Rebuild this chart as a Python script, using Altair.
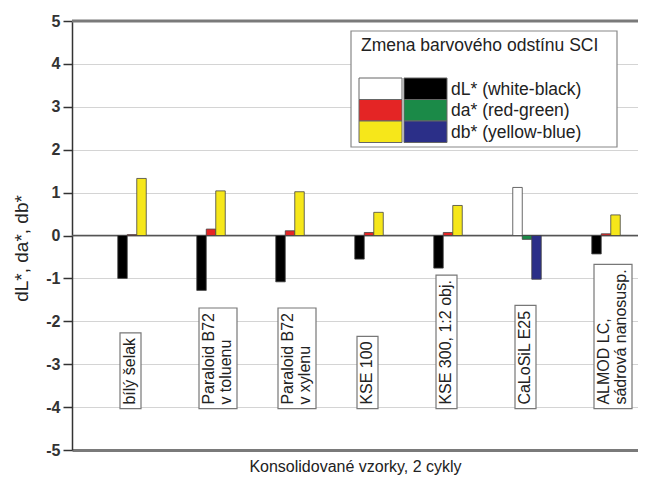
import altair as alt
import pandas as pd

# ---------------- data ----------------
samples = ["bílý šelak", "Paraloid B72\nv toluenu", "Paraloid B72\nv xylenu",
           "KSE 100", "KSE 300, 1:2 obj.", "CaLoSiL E25", "ALMOD LC,\nsádrová nanosusp."]
dL = [-1.00, -1.28, -1.08, -0.55, -0.76, 1.12, -0.43]
da = [0.02, 0.15, 0.11, 0.07, 0.07, -0.09, 0.04]
db = [1.33, 1.04, 1.02, 0.54, 0.70, -1.02, 0.48]
components = ["dL*", "da*", "db*"]
pos_colors = ["#ffffff", "#e42525", "#f6e71a"]
neg_colors = ["#000000", "#1b8a48", "#2b2f88"]
legend_labels = ["dL* (white-black)", "da* (red-green)", "db* (yellow-blue)"]
legend_title = "Zmena barvového odstínu SCI"
y_title = "dL*, da*, db*"
x_title = "Konsolidované vzorky, 2 cykly"
y_ticks = [-5 + 0.5 * k for k in range(21)]

# ---------------- layout ----------------
W, H = 566, 429
FONT = "Liberation Sans"
ppu_y = H / 10.0            # pixels per y unit
step = 79.0                 # pixels per group
first = 60.0                # pixel centre of the first group
x_dom = [-first / step, (W - first) / step]
bw = 9.5 / step             # bar width in x units

series = [dL, da, db]
rows = []
for i, s in enumerate(samples):
    for j, comp in enumerate(components):
        v = series[j][i]
        x = i + (j - 1.5) * bw
        rows.append({"sample": s, "comp": comp, "value": v, "x": x, "x2": x + bw,
                     "color": pos_colors[j] if v >= 0 else neg_colors[j]})
bars_df = pd.DataFrame(rows)

# approximate Arial widths (per 1000 em) to size the label boxes
W1000 = {c: 556 for c in "abdeghnopqu0123456789á"}
W1000.update({c: 500 for c in "cksvxyzýšj"})
W1000.update({"i": 222, "l": 222, "j": 222, "í": 278, "f": 278, "t": 278, "r": 333,
              "m": 833, "w": 722, " ": 278, ",": 278, ".": 278, ":": 278, "*": 389, "-": 333})
W1000.update({"A": 667, "B": 667, "C": 722, "D": 722, "E": 667, "K": 667, "L": 556,
              "M": 833, "O": 778, "P": 667, "S": 667, "I": 278})

def text_len(s, fs):
    return max(sum(W1000.get(c, 556) for c in line) for line in s.split("\n")) * fs / 1000.0

LFS = 16
LH = 17
lab_rows = []
for i, s in enumerate(samples):
    n = len(s.split("\n"))
    left = i - 12.0 / step
    bottom = -4 - 1.5 / ppu_y
    tl = text_len(s, LFS)
    lab_rows.append({"label": s, "bx": left, "bx2": left + (n * LH + 4) / step,
                     "by": bottom, "by2": bottom + (tl + 9) / ppu_y,
                     "tx": left + 2.0 / step, "ty": -4 + 2.5 / ppu_y})
lab_df = pd.DataFrame(lab_rows)

xs = alt.Scale(domain=x_dom, nice=False, zero=False)
ys = alt.Scale(domain=[-5, 5], nice=False)

base_x = alt.X("x:Q", scale=xs, axis=alt.Axis(labels=False, ticks=False, grid=False,
               domainColor="#7a7a7a", domainWidth=3, title=x_title,
               titleFontSize=16, titleFont=FONT, titleFontWeight="normal",
               titleColor="#222", titlePadding=8))
base_y = alt.Y("value:Q", scale=ys, axis=alt.Axis(
    values=y_ticks, title=y_title, titleFontSize=19, titleFont=FONT,
    titleFontWeight="normal", titleColor="#222", titleAngle=270,
    titleX=-51, titleY=227, titleAlign="center", titleBaseline="middle",
    labelExpr="datum.value % 1 === 0 ? toString(datum.value) : ''",
    labelFontSize=16, labelFont=FONT, labelFontWeight="bold", labelColor="#333",
    labelPadding=3,
    tickSize={"condition": {"test": "datum.value % 1 === 0", "value": 9}, "value": 5},
    tickColor="#333", tickWidth=1.5, domainColor="#333", domainWidth=1.5,
    gridColor="#d4d4d4", gridWidth=1.2,
    gridOpacity={"condition": {"test": "datum.value % 1 === 0 && abs(datum.value) < 5", "value": 1}, "value": 0}))

bars = alt.Chart(bars_df).mark_rect(stroke="#444", strokeWidth=0.8).encode(
    x=base_x, x2="x2:Q", y=base_y, y2=alt.datum(0),
    color=alt.Color("color:N", scale=None))

boxes = alt.Chart(lab_df).mark_rect(fill="white", stroke="#777", strokeWidth=1.2).encode(
    x=alt.X("bx:Q", scale=xs), x2="bx2:Q", y=alt.Y("by:Q", scale=ys), y2="by2:Q")

texts = alt.Chart(lab_df).mark_text(angle=270, align="left", baseline="top", lineBreak="\n",
                                    lineHeight=LH, fontSize=LFS, font=FONT, color="#222").encode(
    x=alt.X("tx:Q", scale=xs), y=alt.Y("ty:Q", scale=ys), text="label:N")

zero = alt.Chart(pd.DataFrame({"a": [0]})).mark_rule(color="#555", strokeWidth=1.5).encode(y=alt.datum(0))
top = alt.Chart(pd.DataFrame({"a": [0]})).mark_rule(color="#7a7a7a", strokeWidth=3).encode(y=alt.datum(5))

# ---------------- legend (pixel layout) ----------------
one = pd.DataFrame({"a": [0]})
leg_box = alt.Chart(one).mark_rect(fill="white", stroke="#888", strokeWidth=1.2).encode(
    x=alt.value(279), x2=alt.value(545), y=alt.value(10), y2=alt.value(126))
leg_title = alt.Chart(one).mark_text(align="left", baseline="middle", fontSize=17.5, font=FONT,
                                     color="#222").encode(
    x=alt.value(289), y=alt.value(25), text=alt.value(legend_title))

leg_rows = []
for k, lab in enumerate(legend_labels):
    top_px = 57 + 21.5 * k
    leg_rows.append({"label": lab, "pos": pos_colors[k], "neg": neg_colors[k],
                     "y": top_px, "y2": top_px + 21.5, "ty": top_px + 11.5})
leg_df = pd.DataFrame(leg_rows)
sw1 = alt.Chart(leg_df).mark_rect(stroke="#666", strokeWidth=1).encode(
    x=alt.value(287), x2=alt.value(330),
    y=alt.Y("y:Q", scale=None, axis=None), y2="y2:Q",
    color=alt.Color("pos:N", scale=None))
sw2 = alt.Chart(leg_df).mark_rect(stroke="#666", strokeWidth=1).encode(
    x=alt.value(332), x2=alt.value(375),
    y=alt.Y("y:Q", scale=None, axis=None), y2="y2:Q",
    color=alt.Color("neg:N", scale=None))
leg_text = alt.Chart(leg_df).mark_text(align="left", baseline="middle", fontSize=17.5, font=FONT,
                                       color="#222").encode(
    x=alt.value(379), y=alt.Y("ty:Q", scale=None, axis=None), text="label:N")

chart = alt.layer(boxes, texts, zero, bars, top, leg_box, leg_title, sw1, sw2, leg_text).properties(
    width=W, height=H,
    autosize=alt.AutoSizeParams(type="none"),
    padding={"left": 64, "top": 13, "right": 0, "bottom": 28},
).configure_view(stroke=None).configure(font=FONT)

chart.save("out.html", embed_options={"renderer": "svg", "actions": False})
